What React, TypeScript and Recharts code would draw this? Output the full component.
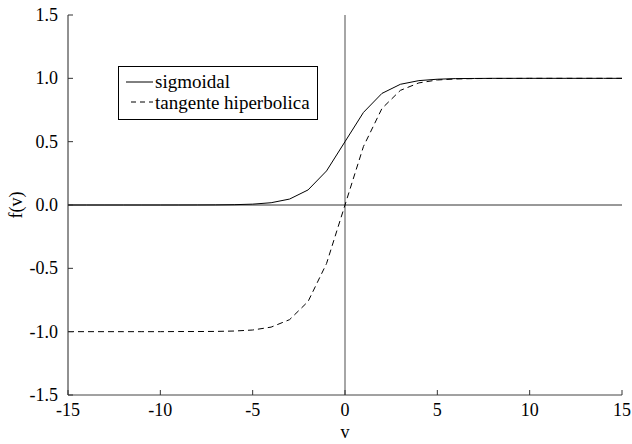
import React from 'react';
import { LineChart, Line, XAxis, YAxis, ReferenceLine, Label } from 'recharts';

// sampled at integer v from -15 to 15
const vValues = [
  -15, -14, -13, -12, -11, -10, -9, -8, -7, -6, -5, -4, -3, -2, -1, 0,
  1, 2, 3, 4, 5, 6, 7, 8, 9, 10, 11, 12, 13, 14, 15,
];
const sigmoidal = [
  0.0, 0.0, 0.0, 0.0, 0.0, 0.0, 0.0001, 0.0003, 0.0009, 0.0025, 0.0067, 0.018,
  0.047, 0.119, 0.269, 0.5, 0.731, 0.881, 0.953, 0.982, 0.993, 0.998, 0.999,
  1.0, 1.0, 1.0, 1.0, 1.0, 1.0, 1.0, 1.0,
];
const tangente = [
  -1.0, -1.0, -1.0, -1.0, -1.0, -1.0, -0.999, -0.999, -0.998, -0.995, -0.987,
  -0.964, -0.905, -0.762, -0.462, 0.0, 0.462, 0.762, 0.905, 0.964, 0.987,
  0.995, 0.998, 0.999, 0.999, 1.0, 1.0, 1.0, 1.0, 1.0, 1.0,
];
const xTicks = [-15, -10, -5, 0, 5, 10, 15];
const yTicks = [-1.5, -1.0, -0.5, 0.0, 0.5, 1.0, 1.5];

const data = vValues.map((v, i) => ({ v, sig: sigmoidal[i], tanh: tangente[i] }));

const FONT = "'Liberation Serif', 'Times New Roman', serif";
const FRAME = '#777';
const textStyle = { fontFamily: FONT, fontSize: 18 };
const legendStyle = { fontFamily: FONT, fontSize: 19 };

const BottomTick = ({ x, y, payload }: any) => (
  <g>
    <line x1={x} y1={y} x2={x} y2={y - 5} stroke="#333" />
    <text x={x} y={y + 21} textAnchor="middle" style={textStyle} fill="#000">
      {payload.value}
    </text>
  </g>
);

const LeftTick = ({ x, y, payload }: any) => (
  <g>
    <line x1={x} y1={y} x2={x + 5} y2={y} stroke="#333" />
    <text x={x - 10} y={y + 6} textAnchor="end" style={textStyle} fill="#000">
      {Number(payload.value).toFixed(1)}
    </text>
  </g>
);

const TopTick = ({ x, y }: any) => <line x1={x} y1={y} x2={x} y2={y + 5} stroke={FRAME} />;
const RightTick = ({ x, y }: any) => <line x1={x} y1={y} x2={x - 5} y2={y} stroke={FRAME} />;

const LegendBox = () => (
  <div
    style={{
      position: 'absolute',
      left: 118,
      top: 66,
      border: '1px solid #000',
      background: '#fff',
      width: 200,
      height: 54,
      boxSizing: 'border-box',
    }}
  >
    <svg width={198} height={52} style={{ display: 'block' }}>
      <line x1={7} y1={15} x2={34} y2={15} stroke="#000" />
      <text x={36} y={21} style={legendStyle} fill="#000">
        sigmoidal
      </text>
      <line x1={12} y1={35} x2={34} y2={35} stroke="#000" strokeDasharray="5 4" />
      <text x={36} y={42} style={legendStyle} fill="#000">
        tangente hiperbolica
      </text>
    </svg>
  </div>
);

export default function App() {
  return (
    <div style={{ position: 'absolute', left: 0, top: 0, width: 632, height: 444, background: '#fff' }}>
      <LineChart
        width={632}
        height={444}
        data={data}
        margin={{ top: 15, right: 10, bottom: 0, left: 8 }}
      >
        <XAxis
          dataKey="v"
          type="number"
          domain={[-15, 15]}
          ticks={xTicks}
          height={49}
          tickSize={0}
          tickMargin={0}
          tickLine={false}
          axisLine={{ stroke: '#444' }}
          tick={<BottomTick />}
          allowDataOverflow
        >
          <Label
            content={({ viewBox }: any) => (
              <text
                x={viewBox.x + viewBox.width / 2}
                y={viewBox.y + 43}
                textAnchor="middle"
                style={textStyle}
                fill="#000"
              >
                v
              </text>
            )}
          />
        </XAxis>
        <XAxis
          xAxisId="top"
          dataKey="v"
          type="number"
          orientation="top"
          domain={[-15, 15]}
          ticks={xTicks}
          height={0}
          tickSize={0}
          tickMargin={0}
          tickLine={false}
          axisLine={{ stroke: FRAME }}
          tick={<TopTick />}
        />
        <YAxis
          type="number"
          domain={[-1.5, 1.5]}
          ticks={yTicks}
          width={60}
          tickSize={0}
          tickMargin={0}
          tickLine={false}
          axisLine={{ stroke: '#222' }}
          tick={<LeftTick />}
          allowDataOverflow
        >
          <Label
            content={({ viewBox }: any) => {
              const cx = 16;
              const cy = viewBox.y + viewBox.height / 2;
              return (
                <text
                  x={cx}
                  y={cy}
                  transform={`rotate(-90, ${cx}, ${cy})`}
                  textAnchor="middle"
                  dominantBaseline="central"
                  style={textStyle}
                  fill="#000"
                >
                  f(v)
                </text>
              );
            }}
          />
        </YAxis>
        <YAxis
          yAxisId="right"
          orientation="right"
          type="number"
          domain={[-1.5, 1.5]}
          ticks={yTicks}
          width={0}
          tickSize={0}
          tickMargin={0}
          tickLine={false}
          axisLine={{ stroke: FRAME }}
          tick={<RightTick />}
        />
        <ReferenceLine x={0} stroke="#888" strokeWidth={1.5} />
        <ReferenceLine y={0} stroke="#333" />
        <Line
          type="linear"
          dataKey="sig"
          name="sigmoidal"
          stroke="#000"
          strokeWidth={1}
          dot={false}
          isAnimationActive={false}
        />
        <Line
          type="linear"
          dataKey="tanh"
          name="tangente hiperbolica"
          stroke="#000"
          strokeWidth={1}
          strokeDasharray="6 4"
          dot={false}
          isAnimationActive={false}
        />
      </LineChart>
      <LegendBox />
    </div>
  );
}
